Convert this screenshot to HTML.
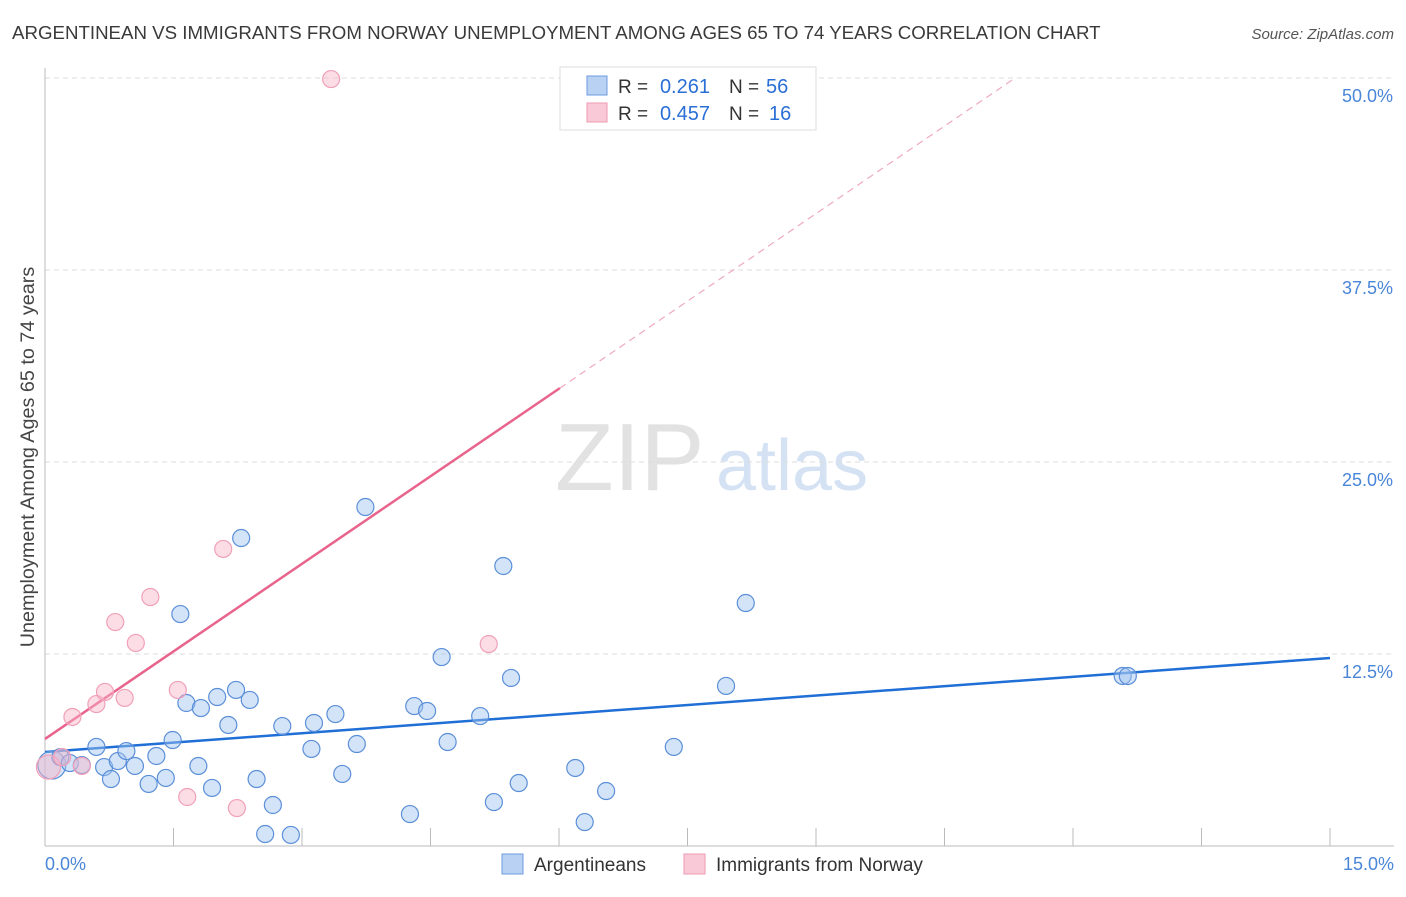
<!DOCTYPE html>
<html><head><meta charset="utf-8"><style>
body{margin:0;background:#fff;font-family:"Liberation Sans",sans-serif;}
svg text{font-family:"Liberation Sans",sans-serif;}
</style></head><body>
<svg id="chart" width="1406" height="892" xmlns="http://www.w3.org/2000/svg">
<text x="12" y="39" font-size="18.7" fill="#3a3a3a">ARGENTINEAN VS IMMIGRANTS FROM NORWAY UNEMPLOYMENT AMONG AGES 65 TO 74 YEARS CORRELATION CHART</text>
<text x="1394" y="39" font-size="15" fill="#555" font-style="italic" text-anchor="end">Source: ZipAtlas.com</text>
<text transform="translate(34,457) rotate(-90)" font-size="19.8" fill="#444" text-anchor="middle">Unemployment Among Ages 65 to 74 years</text>
<g>
<text x="555" y="490" font-size="96" fill="#e2e2e2" font-family="Liberation Serif">ZIP</text>
<text x="716" y="490" font-size="72" fill="#d4e2f4">atlas</text>
</g>
<g id="grid"></g><g id="axes"></g><g id="lines"></g><g id="pts"></g>
<g>
<rect x="560" y="67" width="256" height="63" fill="#fff" stroke="#ddd"/>
<rect x="587" y="76" width="20" height="19" fill="#b9d2f4" stroke="#6d9be0"/>
<text x="618" y="93" font-size="19" fill="#333">R =</text>
<text x="710" y="93" font-size="20" fill="#2a6fd6" text-anchor="end">0.261</text>
<text x="729" y="93" font-size="19" fill="#333">N =</text>
<text x="766" y="93" font-size="20" fill="#2a6fd6">56</text>
<rect x="587" y="103" width="20" height="19" fill="#f9c9d7" stroke="#ee9ab3"/>
<text x="618" y="120" font-size="19" fill="#333">R =</text>
<text x="710" y="120" font-size="20" fill="#2a6fd6" text-anchor="end">0.457</text>
<text x="729" y="120" font-size="19" fill="#333">N =</text>
<text x="769" y="120" font-size="20" fill="#2a6fd6">16</text>
</g>
<g>
<rect x="502" y="854" width="21" height="20" fill="#b9d2f4" stroke="#6d9be0"/>
<text x="534" y="871" font-size="19" fill="#333">Argentineans</text>
<rect x="684" y="854" width="21" height="20" fill="#f9c9d7" stroke="#ee9ab3"/>
<text x="716" y="871" font-size="19" fill="#333">Immigrants from Norway</text>
</g>
</svg>
<script>
const blueX=[0.08,0.18,0.29,0.43,0.60,0.69,0.77,0.85,0.95,1.05,1.21,1.30,1.41,1.49,1.58,1.65,1.79,1.82,1.95,2.01,2.14,2.23,2.29,2.39,2.47,2.57,2.66,2.77,2.87,3.11,3.14,3.39,3.47,3.64,3.74,4.26,4.31,4.46,4.63,4.70,5.08,5.24,5.35,5.44,5.53,6.19,6.30,6.55,7.34,7.95,8.18,12.58,12.64];
const blueY=[5.27,5.79,5.40,5.27,6.45,5.14,4.36,5.53,6.18,5.21,4.04,5.86,4.43,6.90,15.10,9.31,5.21,8.98,3.78,9.70,7.88,10.16,20.05,9.51,4.36,0.78,2.67,7.81,0.72,6.32,8.01,8.59,4.69,6.64,22.07,2.08,9.11,8.79,12.30,6.77,8.46,2.86,18.23,10.94,4.10,5.08,1.56,3.58,6.45,10.42,15.82,11.07,11.07];
const pinkX=[0.04,0.20,0.32,0.43,0.60,0.70,0.82,0.93,1.06,1.23,1.55,1.66,2.08,2.24,3.34,5.18];
const pinkY=[5.14,5.79,8.40,5.21,9.24,10.03,14.58,9.64,13.22,16.21,10.16,3.19,19.34,2.47,49.93,13.15];
const blueTrend=[6.12,12.24];
const pinkTrend=[6.97,3.80];
const yTicks=[12.5,25,37.5,50];
const xTickLabels=["0.0%","15.0%"];
const NS="http://www.w3.org/2000/svg";
const X=v=>45+v/15*1285, Y=v=>846-v/50*768;
function mk(t,a,p){const e=document.createElementNS(NS,t);for(const k in a)e.setAttribute(k,a[k]);document.getElementById(p).appendChild(e);return e;}
yTicks.forEach(t=>{
 const g=mk('line',{x1:45,x2:1394,y1:Y(t),y2:Y(t),stroke:'#ddd','stroke-dasharray':'5,4'},'grid');
 
 
 const l=mk('text',{x:1393,y:Y(t)+24,'font-size':18,fill:'#4a86d8','text-anchor':'end'},'axes');
 l.textContent=t.toFixed(1)+'%';
 
 
});
const ax=mk('line',{x1:45,x2:45,y1:68,y2:846,stroke:'#bbb'},'axes');


const bx=mk('line',{x1:45,x2:1394,y1:846,y2:846,stroke:'#bbb'},'axes');


for(let i=1;i<=10;i++){const t=mk('line',{x1:X(i*1.5),x2:X(i*1.5),y1:828,y2:846,stroke:'#bbb'},'axes');
 
 }
[[0,45,'start'],[15,1394,'end']].forEach((d,i)=>{const t=mk('text',{x:d[1],y:870,'font-size':18,fill:'#4a86d8','text-anchor':d[2]},'axes');t.textContent=xTickLabels[i];
 
 });
const bl=mk('line',{x1:X(0),y1:Y(blueTrend[0]),x2:X(15),y2:Y(blueTrend[1]),stroke:'#1f6fd6','stroke-width':2.5},'lines');


const xe=(50-pinkTrend[0])/pinkTrend[1];
const pd=mk('line',{x1:X(6.01),y1:Y(pinkTrend[0]+pinkTrend[1]*6.01),x2:X(xe),y2:Y(50),stroke:'#eeaabc','stroke-width':1.2,'stroke-dasharray':'7,5'},'lines');


const pl=mk('line',{x1:X(0),y1:Y(pinkTrend[0]),x2:X(6.01),y2:Y(pinkTrend[0]+pinkTrend[1]*6.01),stroke:'#e8648c','stroke-width':2.5},'lines');


blueX.forEach((x,i)=>{const c=mk('circle',{cx:X(x),cy:Y(blueY[i]),r:i==0?14:8.5,fill:'rgba(160,195,240,0.45)',stroke:'#5b8fd8','stroke-width':1.2},'pts');
 
 });
pinkX.forEach((x,i)=>{const c=mk('circle',{cx:X(x),cy:Y(pinkY[i]),r:i==0?12:8.5,fill:'rgba(248,180,200,0.45)',stroke:'#f0a0b8','stroke-width':1.2},'pts');
 
 });
</script>
</body></html>
